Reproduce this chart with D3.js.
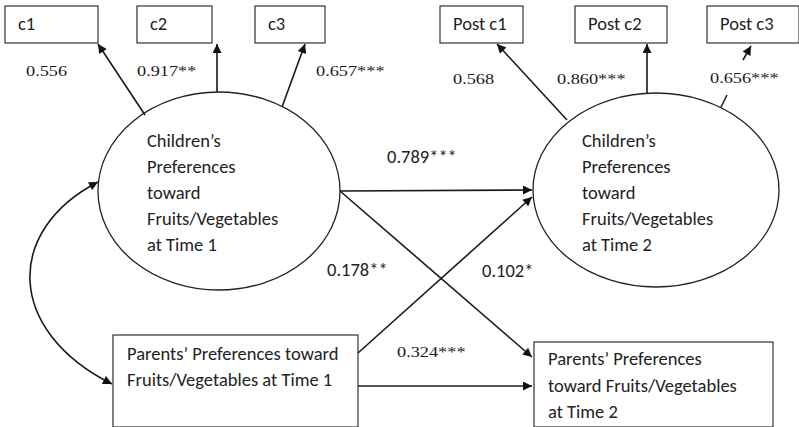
<!DOCTYPE html>
<html>
<head>
<meta charset="utf-8">
<script src="https://cdn.jsdelivr.net/npm/d3@7"></script>
<style>
  html, body { margin: 0; padding: 0; background: #fff; }
  svg { display: block; }
  .box { fill: #fff; stroke: #333; stroke-width: 1.2; }
  .latent { fill: none; stroke: #222; stroke-width: 1.3; }
  .path { fill: none; stroke: #1a1a1a; stroke-width: 1.6; }
  .sans { font-family: Carlito, Lato, "Open Sans", sans-serif; font-size: 18.5px; fill: #222; }
  .serif { font-family: "Liberation Serif", "Times New Roman", serif; font-size: 15.5px; fill: #1a1a1a; }
</style>
</head>
<body>
<svg id="chart" width="799" height="427"></svg>
<script>
// chart values
var indicators = ['c1', 'c2', 'c3', 'Post c1', 'Post c2', 'Post c3'];
var loadings = ['0.556', '0.917**', '0.657***', '0.568', '0.860***', '0.656***'];
var latentNames = [
  ['Children\u2019s', 'Preferences', 'toward', 'Fruits/Vegetables', 'at Time 1'],
  ['Children\u2019s', 'Preferences', 'toward', 'Fruits/Vegetables', 'at Time 2']
];
var observedNames = [
  ['Parents\u2019 Preferences toward', 'Fruits/Vegetables at Time 1'],
  ['Parents\u2019 Preferences', 'toward Fruits/Vegetables', 'at Time 2']
];
var pathFrom = ['child1', 'child1', 'parent1', 'parent1'];
var pathTo = ['child2', 'parent2', 'child2', 'parent2'];
var coefficients = ['0.789***', '0.178**', '0.102*', '0.324***'];

// layout (geometry only)
var indicatorBoxes = [
  [5, 6, 93, 37], [137, 6, 75, 37], [255, 6, 70, 37],
  [440, 6, 83, 37], [575, 6, 92, 37], [707, 6, 92, 37]
];
var loadingLines = [
  [145, 115, 98, 44], [217, 92, 217, 44], [282, 107, 305, 44],
  [567, 120, 497, 44], [647, 93, 647, 44], [743, 60, 751, 46]
];
var loadingTextPos = [[26, 76], [137, 76], [316, 76], [453, 84], [557, 84], [710, 83]];
var latentShape = { child1: [219, 191, 121, 99], child2: [656, 190, 123, 97] };
var latentTextX = { child1: 147, child2: 582 };
var observedBoxes = { parent1: [113, 335, 245, 92], parent2: [534, 342, 239, 85] };
var observedText = { parent1: [127, 360, 26], parent2: [548, 365, 26.5] };
var pathLines = [[340, 191, 532, 190], [340, 191, 532, 357], [358, 353, 532, 197], [358, 386, 532, 386]];
var coefPos = [[387, 163, 'sans'], [327, 276, 'sans'], [482, 277, 'sans'], [397, 357, 'serif']];

var Diagram = new function() {
  var svg = d3.select('#chart');

  this.render = function() {
    createMarker();
    createIndicators();
    createLoadings();
    createLatents();
    createObserved();
    createPaths();
    createCovariance();
  };

  // PRIVATE

  var createMarker = function() {
    svg.append('defs').append('marker')
      .attr('id', 'arrow')
      .attr('viewBox', '0 0 10 10')
      .attr('refX', 10).attr('refY', 5)
      .attr('markerWidth', 11).attr('markerHeight', 9)
      .attr('markerUnits', 'userSpaceOnUse')
      .attr('orient', 'auto-start-reverse')
      .append('path')
      .attr('d', 'M0,0 L10,5 L0,10 Z')
      .attr('fill', '#111');
  };

  var createIndicators = function() {
    var g = svg.selectAll('g.indicator')
      .data(indicators)
      .enter().append('g')
      .attr('class', 'indicator');

    g.append('rect')
      .attr('class', 'box')
      .attr('x', function(d, i) { return indicatorBoxes[i][0]; })
      .attr('y', function(d, i) { return indicatorBoxes[i][1]; })
      .attr('width', function(d, i) { return indicatorBoxes[i][2]; })
      .attr('height', function(d, i) { return indicatorBoxes[i][3]; });

    g.append('text')
      .attr('class', 'sans')
      .attr('x', function(d, i) { return indicatorBoxes[i][0] + 13; })
      .attr('y', function(d, i) { return indicatorBoxes[i][1] + 24; })
      .text(function(d) { return d; });
  };

  var createLoadings = function() {
    svg.selectAll('line.loading')
      .data(loadings)
      .enter().append('line')
      .attr('class', 'path loading')
      .attr('x1', function(d, i) { return loadingLines[i][0]; })
      .attr('y1', function(d, i) { return loadingLines[i][1]; })
      .attr('x2', function(d, i) { return loadingLines[i][2]; })
      .attr('y2', function(d, i) { return loadingLines[i][3]; })
      .attr('marker-end', 'url(#arrow)');

    // the Post c3 loading is drawn broken in the original: a stub on the ellipse
    svg.append('line')
      .attr('class', 'path')
      .attr('x1', 721).attr('y1', 107)
      .attr('x2', 727).attr('y2', 95);

    svg.selectAll('text.loading')
      .data(loadings)
      .enter().append('text')
      .attr('class', 'serif loading')
      .attr('transform', function(d, i) {
        return 'translate(' + loadingTextPos[i][0] + ',' + loadingTextPos[i][1] + ') scale(1.18,1)';
      })
      .text(function(d) { return d; });
  };

  var createLatents = function() {
    var keys = ['child1', 'child2'];
    var g = svg.selectAll('g.latent')
      .data(keys)
      .enter().append('g');

    g.append('ellipse')
      .attr('class', 'latent')
      .attr('cx', function(k) { return latentShape[k][0]; })
      .attr('cy', function(k) { return latentShape[k][1]; })
      .attr('rx', function(k) { return latentShape[k][2]; })
      .attr('ry', function(k) { return latentShape[k][3]; });

    g.each(function(k, i) {
      d3.select(this).selectAll('text')
        .data(latentNames[i])
        .enter().append('text')
        .attr('class', 'sans')
        .attr('x', latentTextX[k])
        .attr('y', function(d, j) { return 147 + j * 26; })
        .text(function(d) { return d; });
    });
  };

  var createObserved = function() {
    var keys = ['parent1', 'parent2'];
    var g = svg.selectAll('g.observed')
      .data(keys)
      .enter().append('g');

    g.append('rect')
      .attr('class', 'box')
      .attr('x', function(k) { return observedBoxes[k][0]; })
      .attr('y', function(k) { return observedBoxes[k][1]; })
      .attr('width', function(k) { return observedBoxes[k][2]; })
      .attr('height', function(k) { return observedBoxes[k][3]; });

    g.each(function(k, i) {
      var t = observedText[k];
      d3.select(this).selectAll('text')
        .data(observedNames[i])
        .enter().append('text')
        .attr('class', 'sans')
        .attr('x', t[0])
        .attr('y', function(d, j) { return t[1] + j * t[2]; })
        .text(function(d) { return d; });
    });
  };

  var createPaths = function() {
    svg.selectAll('line.structural')
      .data(coefficients)
      .enter().append('line')
      .attr('class', 'path structural')
      .attr('data-from', function(d, i) { return pathFrom[i]; })
      .attr('data-to', function(d, i) { return pathTo[i]; })
      .attr('x1', function(d, i) { return pathLines[i][0]; })
      .attr('y1', function(d, i) { return pathLines[i][1]; })
      .attr('x2', function(d, i) { return pathLines[i][2]; })
      .attr('y2', function(d, i) { return pathLines[i][3]; })
      .attr('marker-end', 'url(#arrow)');

    svg.selectAll('text.coef')
      .data(coefficients)
      .enter().append('text')
      .attr('class', function(d, i) { return coefPos[i][2] + ' coef'; })
      .attr('transform', function(d, i) {
        var sx = coefPos[i][2] === 'serif' ? 1.18 : 1;
        return 'translate(' + coefPos[i][0] + ',' + coefPos[i][1] + ') scale(' + sx + ',1)';
      })
      .text(function(d) { return d; });
  };

  var createCovariance = function() {
    var p = d3.path();
    p.moveTo(112, 384);
    p.bezierCurveTo(5, 330, 5, 230, 98, 182);
    svg.append('path')
      .attr('class', 'path')
      .attr('d', p.toString())
      .attr('marker-start', 'url(#arrow)')
      .attr('marker-end', 'url(#arrow)');
  };
};

Diagram.render();
</script>
</body>
</html>
